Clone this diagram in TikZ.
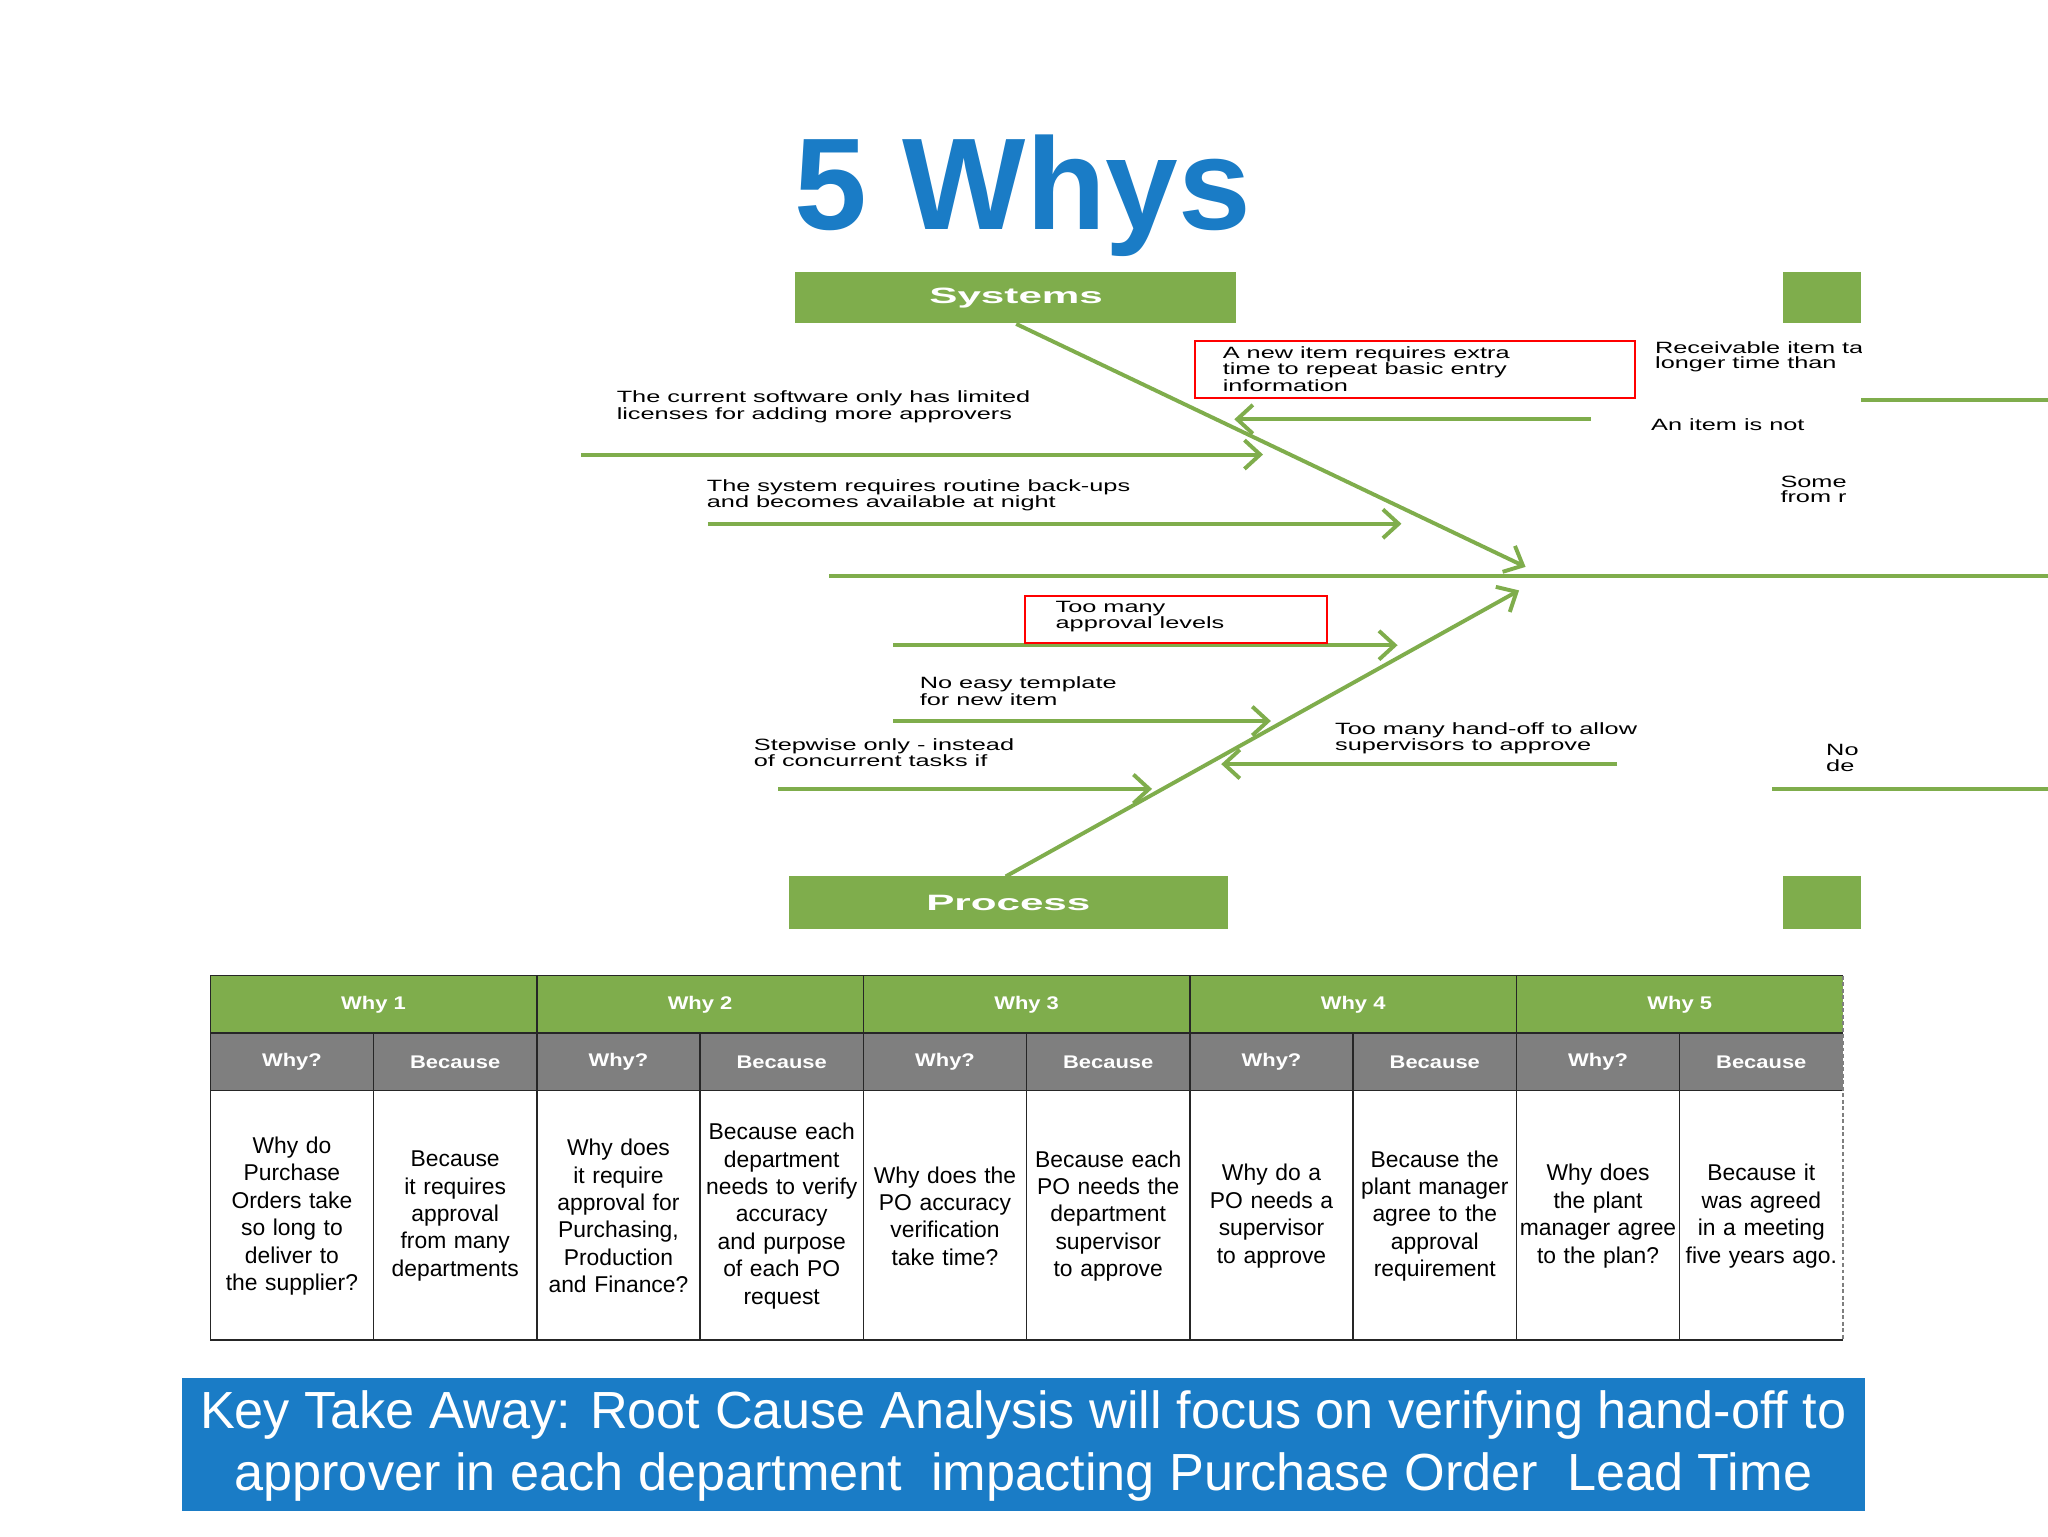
\documentclass[tikz,border=0pt]{standalone}
\usepackage{fontspec}
\setmainfont{Liberation Sans}
\newfontfamily\widefont{Liberation Sans}[FakeStretch=1.55]
\newfontfamily\widebold{Liberation Sans Bold}[FakeStretch=1.9]
\newfontfamily\hdfont{Liberation Sans Bold}[FakeStretch=1.2]
\usetikzlibrary{arrows.meta}
\definecolor{gr}{HTML}{7FAD4C}
\definecolor{tb}{HTML}{1A7CC6}
\definecolor{gy}{HTML}{7F7F7F}
\tikzset{
 br/.style={draw=gr,line width=3pt,-{Straight Barb[length=12pt,width=22pt,line width=3pt]}},
 pl/.style={draw=gr,line width=3pt},
 sm/.style={font=\widefont\fontsize{12.5}{11.5}\selectfont,align=left,anchor=north west,inner sep=0pt},
 rb/.style={draw=red,line width=1.5pt},
 gbox/.style={fill=gr,draw=none},
 cell/.style={font=\fontsize{17.5}{21}\selectfont,align=center,text width=120pt,inner sep=0pt},
 hd/.style={font=\hdfont\fontsize{14}{16}\selectfont,text=white},
}
\begin{document}
\begin{tikzpicture}[x=1pt,y=-1pt]
\useasboundingbox (0,0) rectangle (1568,1176);
\fill[white] (0,0) rectangle (1568,1176);
\node[text=tb,font=\bfseries\fontsize{100}{100}\selectfont] (title) at (783,150) {5 Whys};
% boxes
\fill[gbox] (609,208) rectangle (946,247);
\node[font=\widebold\fontsize{17}{17}\selectfont,text=white] (sys) at (778,228) {Systems};
\fill[gbox] (1365,208) rectangle (1425,247);
\fill[gbox] (604,671) rectangle (940,711);
\node[font=\widebold\fontsize{17}{17}\selectfont,text=white] (proc) at (772,691) {Process};
\fill[gbox] (1365,671) rectangle (1425,711);
% spine and diagonals
\coordinate (s0) at (635,441); \coordinate (s1) at (1568,441);
\draw[pl] (s0) -- (s1);
\coordinate (d1a) at (778,248); \coordinate (d1b) at (1168,434);
\draw[br] (d1a) -- (d1b);
\coordinate (d2a) at (770,671); \coordinate (d2b) at (1163,452);
\draw[br] (d2a) -- (d2b);
% branches
\coordinate (b1a) at (445,348); \coordinate (b1b) at (967,348); \draw[br] (b1a) -- (b1b);
\coordinate (b2a) at (542,401); \coordinate (b2b) at (1073,401); \draw[br] (b2a) -- (b2b);
\coordinate (b3a) at (1218,321); \coordinate (b3b) at (945,321); \draw[br] (b3a) -- (b3b);
\coordinate (b4a) at (684,494); \coordinate (b4b) at (1070,494); \draw[br] (b4a) -- (b4b);
\coordinate (b5a) at (684,552); \coordinate (b5b) at (973,552); \draw[br] (b5a) -- (b5b);
\coordinate (b6a) at (596,604); \coordinate (b6b) at (882,604); \draw[br] (b6a) -- (b6b);
\coordinate (b7a) at (1238,585); \coordinate (b7b) at (935,585); \draw[br] (b7a) -- (b7b);
\coordinate (b8a) at (1425,306); \coordinate (b8b) at (1568,306); \draw[pl] (b8a) -- (b8b);
\coordinate (b9a) at (1357,604); \coordinate (b9b) at (1568,604); \draw[pl] (b9a) -- (b9b);
% red boxes
\draw[rb] (915,261) rectangle (1252,305);
\draw[rb] (785,456) rectangle (1016,492);
% texts
\node[sm] (t1) at (936,265) {A new item requires extra\\time to repeat basic entry\\information};
\node[sm] (t2) at (472,299) {The current software only has limited\\licenses for adding more approvers};
\node[sm] (t3) at (541,367) {The system requires routine back-ups\\and becomes available at night};
\node[sm] (t4) at (808,460) {Too many\\approval levels};
\node[sm] (t5) at (704,518) {No easy template\\for new item};
\node[sm] (t6) at (577,565) {Stepwise only - instead\\of concurrent tasks if};
\node[sm] (t7) at (1022,553) {Too many hand-off to allow\\supervisors to approve};
\begin{scope}
\clip (1250,250) rectangle (1425,620);
\node[sm] (t8) at (1267,261) {Receivable item takes\\longer time than};
\node[sm] (t9) at (1264,320) {An item is not};
\node[sm] (t10) at (1363,364) {Some\\from r};
\node[sm] (t11) at (1398,570) {No\\de};
\end{scope}
% table
\fill[gr] (161,747) rectangle (1411,791);
\fill[gy] (161,791) rectangle (1411,835);
\foreach \i/\x in {1/286,2/536,3/786,4/1036,5/1286}{
  \node[hd] (wh\i) at (\x,769) {Why \i};
}
\foreach \x in {223.5,473.5,723.5,973.5,1223.5}{
  \node[hd] at (\x,813) {Why?};
  \node[hd] at (\x+125,813) {Because};
}
\draw[black!85,line width=1.2pt] (161,747) -- (1411,747) (161,791) -- (1411,791) (161,835) -- (1411,835) (161,1026) -- (1411,1026);
\draw[black!85,line width=1.2pt] (161,747) -- (161,1026);
\foreach \x in {411,661,911,1161}{\draw[black!85,line width=1.2pt] (\x,747) -- (\x,1026);}
\foreach \x in {286,536,786,1036,1286}{\draw[black!85,line width=1.2pt] (\x,791) -- (\x,1026);}
\draw[gy,line width=1.2pt,dash pattern=on 3pt off 2pt] (1411,747) -- (1411,1026);
\node[cell] (c1) at (223.5,931) {Why do Purchase Orders take so long to deliver to the supplier?};
\node[cell] (c2) at (348.5,931) {Because it requires approval from many departments};
\node[cell] (c3) at (473.5,931) {Why does it require approval for Purchasing, Production and Finance?};
\node[cell] (c4) at (598.5,931) {Because each department needs to verify accuracy and purpose of each PO request};
\node[cell] (c5) at (723.5,931) {Why does the PO accuracy verification take time?};
\node[cell] (c6) at (848.5,931) {Because each PO needs the department supervisor to approve};
\node[cell] (c7) at (973.5,931) {Why do a PO needs a supervisor to approve};
\node[cell] (c8) at (1098.5,931) {Because the plant manager agree to the approval requirement};
\node[cell] (c9) at (1223.5,931) {Why does the plant manager agree to the plan?};
\node[cell] (c10) at (1348.5,931) {Because it was agreed in a meeting five years ago.};
% bottom bar
\fill[tb] (139,1055) rectangle (1428,1157);
\node[text=white,font=\fontsize{40}{47}\selectfont,align=center] (key) at (783.5,1107) {Key Take Away: Root Cause Analysis will focus on verifying hand-off to\\approver in each department\ \ impacting Purchase Order\ \ Lead Time};
\end{tikzpicture}
\end{document}
